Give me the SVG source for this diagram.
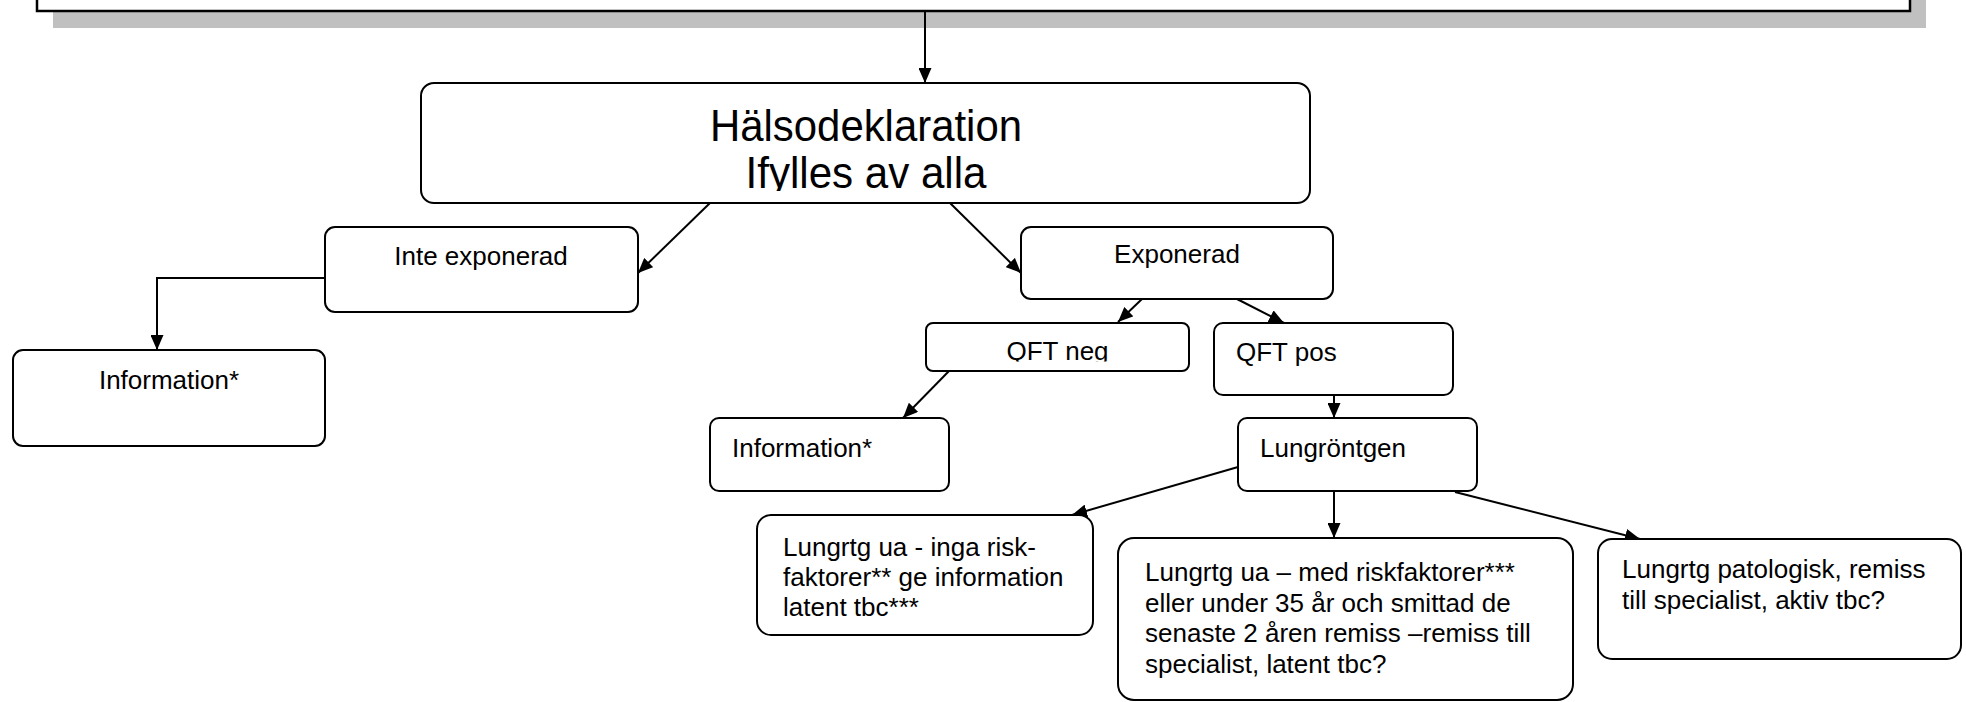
<svg xmlns="http://www.w3.org/2000/svg" width="1966" height="702" viewBox="0 0 1966 702">
<style>
.box{fill:#fff;stroke:#000;stroke-width:2}
.t{font-family:"Liberation Sans",Arial,sans-serif;font-size:26px;fill:#000}
.c{text-anchor:middle}
.big{font-family:"Liberation Sans",Arial,sans-serif;font-size:44px;fill:#000;text-anchor:middle}
.ln{stroke:#000;stroke-width:2;fill:none;marker-end:url(#ah)}
</style>
<defs>
<marker id="ah" markerUnits="userSpaceOnUse" markerWidth="15" markerHeight="13" refX="15" refY="6.5" orient="auto">
<path d="M0,0 L15,6.5 L0,13 z" fill="#000"/>
</marker>
<clipPath id="clipMain"><rect x="421" y="83" width="889" height="108"/></clipPath>
<clipPath id="clipNeg"><rect x="926" y="323" width="263" height="38.5"/></clipPath>
</defs>
<g id="top">
<rect x="53" y="-20" width="1873" height="48" fill="#c0c0c0"/>
<rect x="37" y="-20" width="1873" height="31" fill="#fff" stroke="#000" stroke-width="2.5"/>
</g>
<g id="connectors">
<line class="ln" x1="925" y1="11" x2="925" y2="83"/>
<line class="ln" x1="710" y1="203" x2="638" y2="273"/>
<polyline class="ln" points="325,278 157,278 157,350"/>
<line class="ln" x1="950" y1="203" x2="1021" y2="273"/>
<line class="ln" x1="1142" y1="299" x2="1118" y2="322"/>
<line class="ln" x1="1237" y1="299" x2="1284" y2="323"/>
<line class="ln" x1="949" y1="371" x2="903" y2="418"/>
<line class="ln" x1="1334" y1="395" x2="1334" y2="418"/>
<line class="ln" x1="1238" y1="467" x2="1072" y2="515"/>
<line class="ln" x1="1334" y1="491" x2="1334" y2="538"/>
<line class="ln" x1="1455" y1="492" x2="1640" y2="539"/>
</g>
<g id="main">
<rect class="box" x="421" y="83" width="889" height="120" rx="13"/>
<g clip-path="url(#clipMain)">
<text class="big" x="866" y="141" textLength="312" lengthAdjust="spacingAndGlyphs">Hälsodeklaration</text>
<text class="big" x="866" y="188" textLength="241" lengthAdjust="spacingAndGlyphs">Ifylles av alla</text>
</g>
</g>
<g id="inte-exponerad">
<rect class="box" x="325" y="227" width="313" height="85" rx="10"/>
<text class="t c" x="481" y="265">Inte exponerad</text>
</g>
<g id="information-left">
<rect class="box" x="13" y="350" width="312" height="96" rx="10"/>
<text class="t c" x="169" y="389">Information*</text>
</g>
<g id="exponerad">
<rect class="box" x="1021" y="227" width="312" height="72" rx="10"/>
<text class="t c" x="1177" y="263">Exponerad</text>
</g>
<g id="qft-neg">
<rect class="box" x="926" y="323" width="263" height="48" rx="7"/>
<g clip-path="url(#clipNeg)">
<text class="t c" x="1057.5" y="360">QFT neg</text>
</g>
</g>
<g id="qft-pos">
<rect class="box" x="1214" y="323" width="239" height="72" rx="9"/>
<text class="t" x="1236" y="361">QFT pos</text>
</g>
<g id="information-mid">
<rect class="box" x="710" y="418" width="239" height="73" rx="9"/>
<text class="t" x="732" y="457">Information*</text>
</g>
<g id="lungrontgen">
<rect class="box" x="1238" y="418" width="239" height="73" rx="9"/>
<text class="t" x="1260" y="457">Lungröntgen</text>
</g>
<g id="lungrtg-inga">
<rect class="box" x="757" y="515" width="336" height="120" rx="14"/>
<text class="t" x="783" y="556">Lungrtg ua - inga risk-</text>
<text class="t" x="783" y="586">faktorer** ge information</text>
<text class="t" x="783" y="616">latent tbc***</text>
</g>
<g id="lungrtg-med">
<rect class="box" x="1118" y="538" width="455" height="162" rx="16"/>
<text class="t" x="1145" y="581">Lungrtg ua – med riskfaktorer***</text>
<text class="t" x="1145" y="611.5">eller under 35 år och smittad de</text>
<text class="t" x="1145" y="642">senaste 2 åren remiss –remiss till</text>
<text class="t" x="1145" y="672.5">specialist, latent tbc?</text>
</g>
<g id="lungrtg-patologisk">
<rect class="box" x="1598" y="539" width="363" height="120" rx="14"/>
<text class="t" x="1622" y="578">Lungrtg patologisk, remiss</text>
<text class="t" x="1622" y="609">till specialist, aktiv tbc?</text>
</g>
</svg>
